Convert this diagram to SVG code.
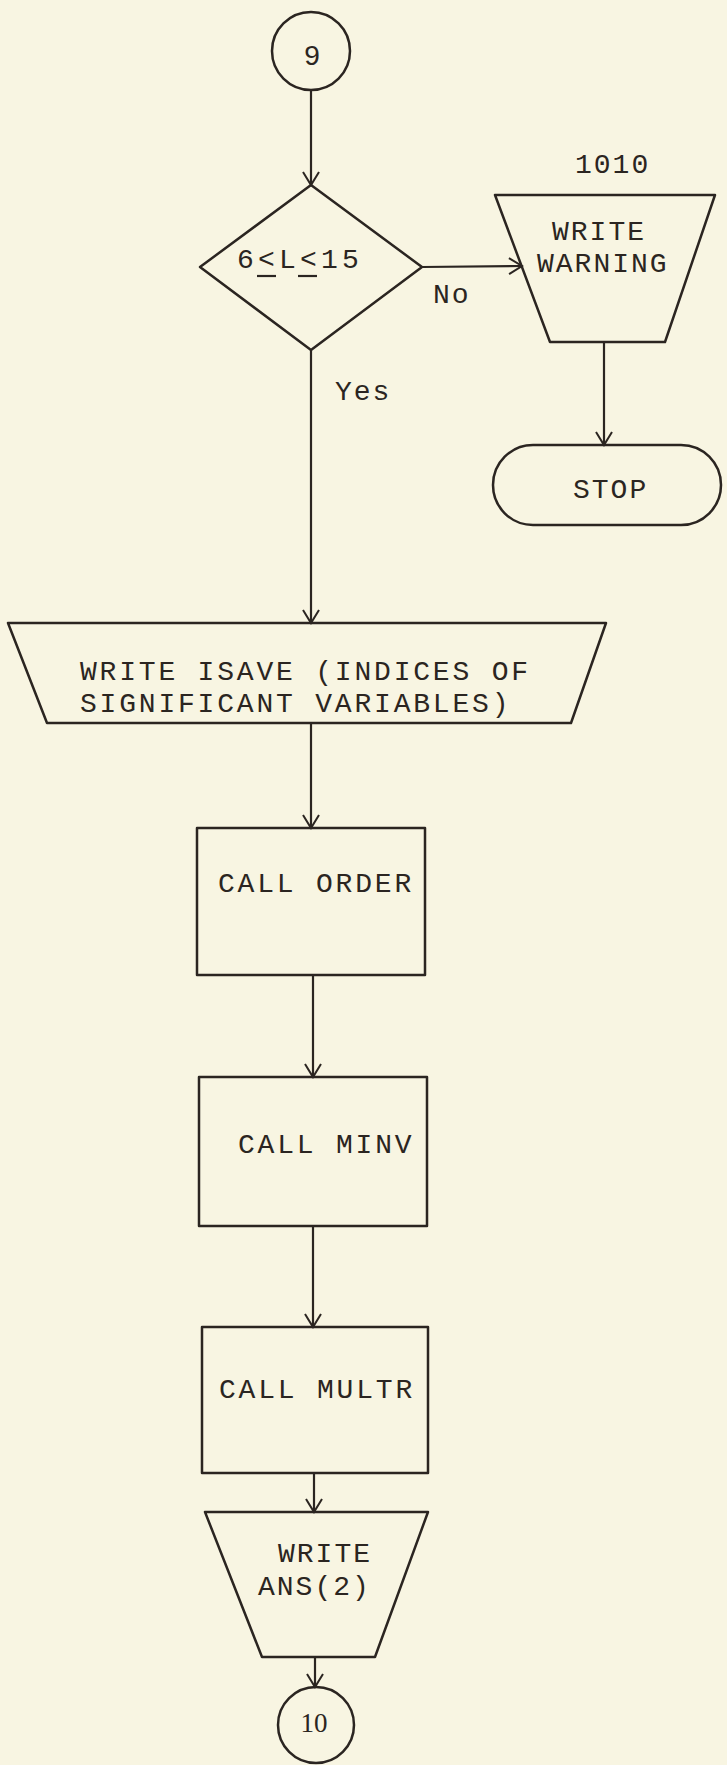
<svg xmlns="http://www.w3.org/2000/svg" width="727" height="1765" viewBox="0 0 727 1765">
<style>
.shape{fill:none;stroke:#2b2521;stroke-width:2.5;stroke-linejoin:round}
.conn{fill:none;stroke:#2b2521;stroke-width:2.2}
.t{font-family:"Liberation Mono",monospace;font-size:28px;fill:#2b2521;letter-spacing:2.8px}
.t2{font-family:"Liberation Mono",monospace;font-size:28px;fill:#2b2521;letter-spacing:2px}
</style>
<defs>
<marker id="arr" markerUnits="userSpaceOnUse" markerWidth="24" markerHeight="24" refX="18" refY="12" orient="auto">
<path d="M5,4 L18,12 L5,20" fill="none" stroke="#2b2521" stroke-width="2"/>
</marker>
</defs>
<rect x="0" y="0" width="727" height="1765" fill="#f8f5e2"/>
<g id="connectors">
<line class="conn" x1="311" y1="90" x2="311" y2="185" marker-end="url(#arr)"/>
<line class="conn" x1="422" y1="267" x2="522" y2="266" marker-end="url(#arr)"/>
<line class="conn" x1="604" y1="342" x2="604" y2="445" marker-end="url(#arr)"/>
<line class="conn" x1="311" y1="350" x2="311" y2="623" marker-end="url(#arr)"/>
<line class="conn" x1="311" y1="723" x2="311" y2="828" marker-end="url(#arr)"/>
<line class="conn" x1="313" y1="975" x2="313" y2="1077" marker-end="url(#arr)"/>
<line class="conn" x1="313" y1="1226" x2="313" y2="1327" marker-end="url(#arr)"/>
<line class="conn" x1="314" y1="1473" x2="314" y2="1512" marker-end="url(#arr)"/>
<line class="conn" x1="315" y1="1657" x2="315" y2="1687" marker-end="url(#arr)"/>
<text class="t2" x="433" y="303">No</text>
<text class="t2" x="335" y="400">Yes</text>
</g>
<g id="c9">
<circle class="shape" cx="311" cy="51" r="39"/>
<text x="312" y="65" text-anchor="middle" font-family="Liberation Sans, sans-serif" font-size="28" fill="#2b2521">9</text>
</g>
<g id="decision">
<polygon class="shape" points="311,185 422,267 311,350 200,267"/>
<text class="t2" x="237" y="268" style="letter-spacing:4.2px">6&lt;L&lt;15</text>
<line class="conn" x1="257" y1="276" x2="276" y2="276"/>
<line class="conn" x1="298" y1="276" x2="317" y2="276"/>
</g>
<g id="n1010">
<text class="t2" x="575" y="173">1010</text>
<polygon class="shape" points="495,195 715,195 665,342 550,342"/>
<text class="t2" x="552" y="240">WRITE</text>
<text class="t2" x="537" y="272">WARNING</text>
</g>
<g id="stop">
<rect class="shape" x="493" y="445" width="228" height="80" rx="40" ry="40"/>
<text class="t2" x="573" y="498">STOP</text>
</g>
<g id="isave">
<polygon class="shape" points="8,623 606,623 571,723 47,723"/>
<text class="t" x="80" y="680">WRITE ISAVE (INDICES OF</text>
<text class="t" x="80" y="712">SIGNIFICANT VARIABLES)</text>
</g>
<g id="order">
<rect class="shape" x="197" y="828" width="228" height="147"/>
<text class="t" x="218" y="892">CALL ORDER</text>
</g>
<g id="minv">
<rect class="shape" x="199" y="1077" width="228" height="149"/>
<text class="t" x="238" y="1153">CALL MINV</text>
</g>
<g id="multr">
<rect class="shape" x="202" y="1327" width="226" height="146"/>
<text class="t" x="219" y="1398">CALL MULTR</text>
</g>
<g id="ans">
<polygon class="shape" points="205,1512 428,1512 375,1657 262,1657"/>
<text class="t2" x="278" y="1562">WRITE</text>
<text class="t2" x="258" y="1595">ANS(2)</text>
</g>
<g id="c10">
<circle class="shape" cx="316" cy="1725" r="38"/>
<text x="314" y="1732" text-anchor="middle" font-family="Liberation Serif, serif" font-size="27" fill="#2b2521">10</text>
</g>
</svg>
